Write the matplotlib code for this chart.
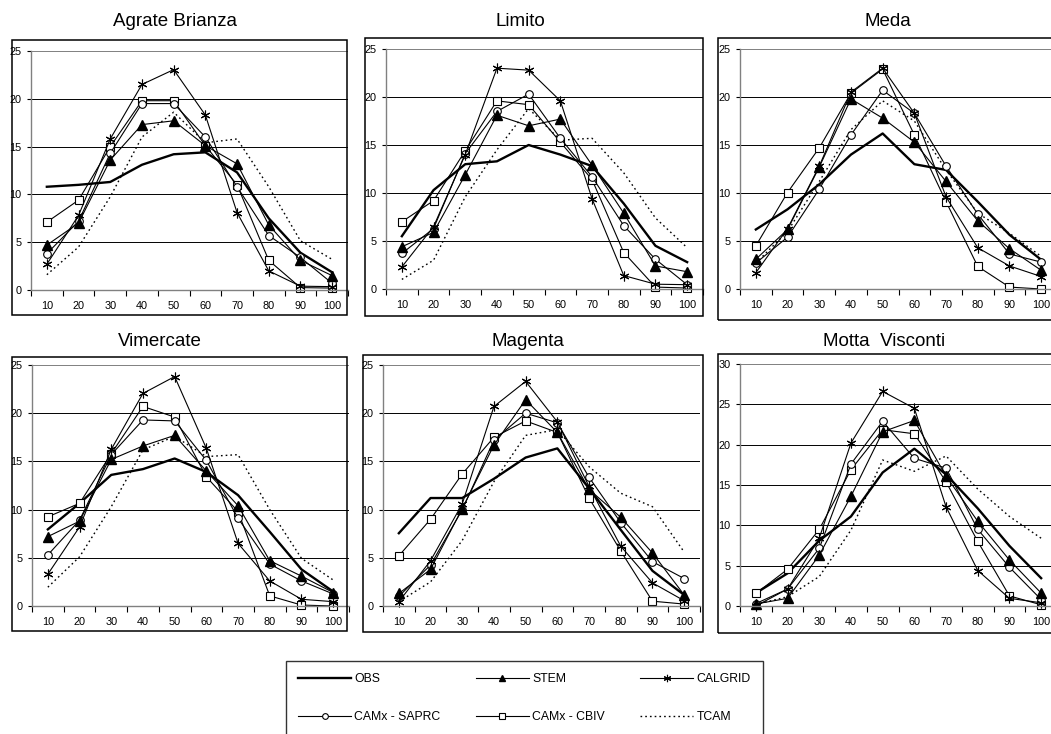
import matplotlib
matplotlib.use("Agg")
import matplotlib.pyplot as plt
from matplotlib.lines import Line2D

plt.rcParams['font.family'] = ['Liberation Sans', 'DejaVu Sans']

# wind speed classes on the x axis
classes = ["10", "20", "30", "40", "50", "60", "70", "80", "90", "100"]
models = ["OBS", "STEM", "CALGRID", "CAMx - SAPRC", "CAMx - CBIV", "TCAM"]

agrate = {
    "OBS":          [10.8, 11.0, 11.3, 13.1, 14.2, 14.4, 12.3, 7.5, 3.9, 1.85],
    "STEM":         [4.7, 7.0, 13.6, 17.3, 17.7, 15.1, 13.2, 6.8, 3.1, 1.5],
    "CALGRID":      [2.7, 7.8, 15.8, 21.5, 23.05, 18.3, 8.1, 2.0, 0.4, 0.35],
    "CAMx - SAPRC": [3.8, 7.2, 14.3, 19.5, 19.5, 16.0, 10.8, 5.7, 3.4, 0.7],
    "CAMx - CBIV":  [7.1, 9.4, 15.0, 19.8, 19.8, 15.1, 11.0, 3.1, 0.25, 0.2],
    "TCAM":         [1.6, 4.5, 9.75, 16.0, 18.6, 15.4, 15.8, 10.8, 5.15, 3.2],
}
limito = {
    "OBS":          [5.5, 10.3, 13.0, 13.3, 15.0, 14.0, 12.8, 8.9, 4.5, 2.8],
    "STEM":         [4.4, 5.9, 11.9, 18.1, 17.0, 17.7, 12.9, 7.9, 2.4, 1.8],
    "CALGRID":      [2.3, 6.5, 14.0, 23.0, 22.8, 19.6, 9.4, 1.4, 0.5, 0.45],
    "CAMx - SAPRC": [3.7, 6.3, 14.1, 18.5, 20.3, 15.7, 11.7, 6.6, 3.1, 0.45],
    "CAMx - CBIV":  [7.0, 9.2, 14.4, 19.6, 19.2, 15.3, 11.4, 3.8, 0.2, 0.1],
    "TCAM":         [1.0, 3.0, 9.6, 14.5, 18.8, 15.5, 15.7, 12.1, 7.4, 4.3],
}
meda = {
    "OBS":          [6.2, 8.3, 10.9, 14.0, 16.2, 13.0, 12.4, 9.1, 5.65, 3.05],
    "STEM":         [3.1, 6.2, 12.7, 19.8, 17.8, 15.3, 11.2, 7.1, 4.2, 1.95],
    "CALGRID":      [1.7, 6.3, 12.8, 20.5, 23.0, 18.3, 9.6, 4.3, 2.4, 1.3],
    "CAMx - SAPRC": [2.7, 5.4, 10.4, 16.05, 20.7, 18.3, 12.8, 7.8, 3.65, 2.8],
    "CAMx - CBIV":  [4.5, 10.05, 14.7, 20.4, 22.9, 16.05, 9.1, 2.35, 0.2, 0.0],
    "TCAM":         [2.7, 6.0, 11.2, 16.6, 19.6, 17.5, 12.4, 7.9, 5.8, 3.4],
}
vimercate = {
    "OBS":          [7.95, 10.65, 13.6, 14.2, 15.3, 13.9, 11.5, 7.7, 3.8, 1.5],
    "STEM":         [7.2, 8.8, 15.2, 16.6, 17.7, 14.0, 10.4, 4.7, 3.1, 1.4],
    "CALGRID":      [3.3, 8.2, 16.25, 22.05, 23.8, 16.35, 6.5, 2.6, 0.7, 0.45],
    "CAMx - SAPRC": [5.3, 8.9, 15.7, 19.3, 19.2, 15.1, 9.1, 4.35, 2.6, 1.25],
    "CAMx - CBIV":  [9.25, 10.65, 15.8, 20.7, 19.6, 13.4, 9.8, 1.05, 0.1, 0.0],
    "TCAM":         [1.95, 5.1, 10.3, 16.2, 17.6, 15.5, 15.7, 10.0, 4.95, 2.7],
}
magenta = {
    "OBS":          [7.55, 11.2, 11.2, 13.2, 15.4, 16.35, 12.2, 7.9, 3.65, 1.15],
    "STEM":         [1.3, 3.8, 10.1, 16.7, 21.4, 18.0, 12.1, 9.2, 5.5, 1.15],
    "CALGRID":      [0.45, 4.7, 10.6, 20.7, 23.3, 19.1, 12.4, 6.2, 2.4, 0.55],
    "CAMx - SAPRC": [1.0, 4.25, 10.0, 17.2, 20.0, 19.0, 13.35, 8.65, 4.6, 2.85],
    "CAMx - CBIV":  [5.2, 9.0, 13.7, 17.5, 19.2, 18.0, 11.2, 5.7, 0.5, 0.2],
    "TCAM":         [0.45, 2.5, 6.8, 12.9, 17.7, 18.3, 14.45, 11.7, 10.3, 5.6],
}
motta = {
    "OBS":          [1.6, 4.05, 8.1, 11.1, 16.55, 19.5, 16.3, 12.1, 7.45, 3.45],
    "STEM":         [0.25, 0.95, 6.3, 13.6, 21.6, 23.0, 16.1, 10.5, 5.7, 1.6],
    "CALGRID":      [0.0, 2.1, 8.4, 20.2, 26.6, 24.5, 12.3, 4.4, 0.95, 0.4],
    "CAMx - SAPRC": [0.3, 2.1, 7.15, 17.6, 22.9, 18.3, 17.1, 9.5, 4.8, 0.8],
    "CAMx - CBIV":  [1.55, 4.55, 9.5, 16.9, 21.85, 21.35, 15.4, 8.0, 1.25, 0.15],
    "TCAM":         [0.2, 1.15, 3.65, 9.4, 18.1, 16.7, 18.6, 14.5, 11.1, 8.4],
}

stations = ["Agrate Brianza", "Limito", "Meda", "Vimercate", "Magenta", "Motta  Visconti"]
station_data = [agrate, limito, meda, vimercate, magenta, motta]
ymax = [25, 25, 25, 25, 25, 30]

styles = {
    "OBS":          dict(color="black", lw=1.7, ls="-", marker=None),
    "STEM":         dict(color="black", lw=0.8, ls="-", marker="^", ms=6.5, mfc="black"),
    "CALGRID":      dict(color="black", lw=0.8, ls="-", marker=(6, 2, 0), ms=7, mew=0.8),
    "CAMx - SAPRC": dict(color="black", lw=0.8, ls="-", marker="o", ms=5.5, mfc="white", mew=0.8),
    "CAMx - CBIV":  dict(color="black", lw=0.8, ls="-", marker="s", ms=5.5, mfc="white", mew=0.8),
    "TCAM":         dict(color="black", lw=1.0, ls=(0, (1.2, 2.2)), marker=None),
}

W, H = 1051, 734
fig = plt.figure(figsize=(W / 100, H / 100), dpi=100)

# pixel boxes: plot area (left, top, right, bottom), outer frame, title position
plot_px = [(31, 51, 348, 290), (386, 49, 703, 289), (740, 49, 1057, 289),
           (32, 365, 349, 606), (383, 365, 700, 606), (740, 364, 1057, 606)]
frame_px = [(12, 40, 347, 315), (365, 38, 703, 316), (718, 38, 1060, 320),
            (12, 357, 347, 631), (363, 355, 703, 632), (718, 354, 1060, 633)]
title_px = [(175, 22), (520, 22), (888, 22), (160, 341), (528, 342), (884, 342)]

x = list(range(len(classes)))
for i, (name, d) in enumerate(zip(stations, station_data)):
    l, t, r, b = plot_px[i]
    ax = fig.add_axes([l / W, 1 - b / H, (r - l) / W, (b - t) / H])
    ax.set_xlim(-0.5, 9.5)
    ax.set_ylim(0, ymax[i])
    for yv in range(5, ymax[i] + 1, 5):
        ax.axhline(yv, color="black" if yv < ymax[i] else "#808080", lw=0.7, zorder=0)
    for m in ["OBS", "TCAM", "CAMx - CBIV", "CAMx - SAPRC", "CALGRID", "STEM"]:
        s = styles[m]
        ax.plot(x, d[m], clip_on=False, **s)
    for sp in ["top", "right"]:
        ax.spines[sp].set_visible(False)
    for sp in ["left", "bottom"]:
        ax.spines[sp].set_color("#808080")
        ax.spines[sp].set_linewidth(1.0)
    ax.set_xticks(x)
    ax.set_xticklabels(classes)
    ax.set_xticks([v - 0.5 for v in range(len(classes) + 1)], minor=True)
    ax.tick_params(axis="x", which="major", length=0, pad=8, labelsize=7.8)
    ax.tick_params(axis="x", which="minor", length=4, direction="out", color="black", width=0.8)
    ax.set_yticks(range(0, ymax[i] + 1, 5))
    ax.tick_params(axis="y", length=3, direction="out", pad=4, labelsize=7.8, width=0.8)

    fl, ft, fr, fb = frame_px[i]
    fig.add_artist(plt.Rectangle((fl / W, 1 - fb / H), (fr - fl) / W, (fb - ft) / H,
                                 transform=fig.transFigure, fill=False,
                                 edgecolor="black", lw=1.1))
    tx, ty = title_px[i]
    fig.text(tx / W, 1 - ty / H, name, ha="center", va="center", fontsize=13.5)

# legend, filled column by column so rows read OBS/STEM/CALGRID
order = ["OBS", "CAMx - SAPRC", "STEM", "CAMx - CBIV", "CALGRID", "TCAM"]
handles = []
for m in order:
    s = dict(styles[m])
    if s.get("marker") is not None:
        s["ms"] = s["ms"] * 0.75
    handles.append(Line2D([], [], **s))
leg = fig.legend(handles, order, ncol=3, loc="upper left",
                 bbox_to_anchor=(286 / W, 1 - 661 / H), borderaxespad=0,
                 fontsize=8.8, handlelength=4.3, handletextpad=0.3,
                 columnspacing=2.9, labelspacing=2.1, borderpad=1.0,
                 fancybox=False, frameon=True)
leg.get_frame().set_edgecolor("black")
leg.get_frame().set_linewidth(1.0)

fig.savefig("out.png", dpi=100)
